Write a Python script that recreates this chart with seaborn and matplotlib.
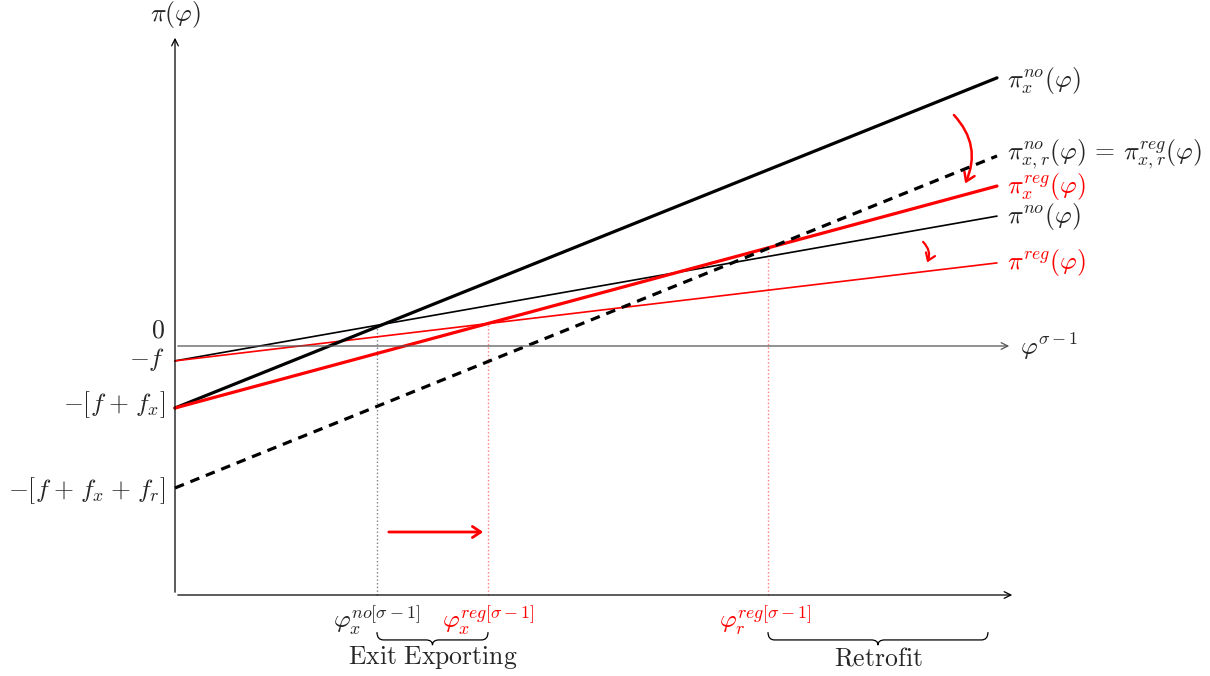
import matplotlib
matplotlib.use("Agg")
from matplotlib import pyplot as plt
from matplotlib.patches import FancyArrowPatch, PathPatch
from matplotlib.path import Path
import seaborn as sns
import numpy as np

# profit lines: value at phi=0 and at phi=10
phi_ends = [0, 10]
pi_x_no = [-2.0, 8.65]
pi_xr = [-4.58, 6.13]
pi_x_reg = [-2.0, 5.16]
pi_no = [-0.48, 4.19]
pi_reg = [-0.48, 2.68]

# cutoffs
cut_x_no = 2.457
cut_x_reg = 3.808
cut_r_reg = 7.214
retrofit_end = 9.89

sns.set_theme(style="white")
plt.rcParams["mathtext.fontset"] = "cm"
plt.rcParams["font.family"] = ["DejaVu Serif"]

RED = "#ff0000"
FS = 18.5

fig = plt.figure(figsize=(12.1, 6.76), dpi=100)
ax = fig.add_axes([0, 0, 1, 1])
ax.set_xlim(-175 / 82.2, (1210 - 175) / 82.2)
ax.set_ylim((346 - 676) / 31, 346 / 31)
ax.axis("off")


def line_at(vals, x):
    return np.interp(x, phi_ends, vals)


# axes
y_bot = (346 - 595) / 31
ax.annotate("", xy=(0, (346 - 35) / 31), xytext=(0, y_bot),
            arrowprops=dict(arrowstyle="->", lw=0.9, color="black"))
ax.annotate("", xy=((1015 - 175) / 82.2, y_bot), xytext=(0, y_bot),
            arrowprops=dict(arrowstyle="->", lw=0.9, color="black"))
ax.annotate("", xy=((1012 - 175) / 82.2, 0), xytext=(0, 0),
            arrowprops=dict(arrowstyle="->", lw=0.9, color="#555555"))

# cutoff verticals
ax.plot([cut_x_no, cut_x_no], [y_bot, line_at(pi_no, cut_x_no)],
        ls=":", color="gray", lw=1.0)
ax.plot([cut_x_reg, cut_x_reg], [y_bot, line_at(pi_reg, cut_x_reg)],
        ls=":", color=RED, alpha=0.5, lw=1.0)
ax.plot([cut_r_reg, cut_r_reg], [y_bot, line_at(pi_x_reg, cut_r_reg)],
        ls=":", color=RED, alpha=0.5, lw=1.0)

# profit lines
sns.lineplot(x=phi_ends, y=pi_no, ax=ax, color="black", lw=1.2)
sns.lineplot(x=phi_ends, y=pi_reg, ax=ax, color=RED, lw=1.2)
sns.lineplot(x=phi_ends, y=pi_x_no, ax=ax, color="black", lw=2.3)
sns.lineplot(x=phi_ends, y=pi_x_reg, ax=ax, color=RED, lw=2.3)
ax.plot(phi_ends, pi_xr, color="black", lw=2.3, ls=(0, (3, 2.2)))

# labels
ax.text(0, 10.7, r"$\pi(\varphi)$", ha="center", va="center", fontsize=FS)
ax.text(-0.12, 0.5, r"$0$", ha="right", va="center", fontsize=FS)
ax.text(-0.12, -0.45, r"$-f$", ha="right", va="center", fontsize=FS)
ax.text(-0.12, -1.9, r"$-[f\;{+}\;f_x]$", ha="right", va="center",
        fontsize=FS)
ax.text(-0.12, -4.65, r"$-[f\;{+}\;f_x\;{+}\;f_r]$", ha="right",
        va="center", fontsize=FS)

xr = (1007 - 175) / 82.2
ax.text(xr, 8.58, r"$\pi_x^{no}(\varphi)$", va="center", fontsize=FS)
ax.text(xr, 6.17,
        r"$\pi_{x,r}^{no}(\varphi)\,=\,\pi_{x,r}^{reg}(\varphi)$",
        va="center", fontsize=FS)
ax.text(xr, 5.13, r"$\pi_x^{reg}(\varphi)$", va="center", fontsize=FS,
        color=RED)
ax.text(xr, 4.19, r"$\pi^{no}(\varphi)$", va="center", fontsize=FS)
ax.text(xr, 2.68, r"$\pi^{reg}(\varphi)$", va="center", fontsize=FS,
        color=RED)
ax.text((1020 - 175) / 82.2, 0, r"$\varphi^{\sigma-1}$", va="center",
        fontsize=FS)

yl = -8.84
ax.text(cut_x_no, yl, r"$\varphi_x^{no[\sigma-1]}$", ha="center",
        va="center", fontsize=FS)
ax.text(cut_x_reg, yl, r"$\varphi_x^{reg[\sigma-1]}$", ha="center",
        va="center", fontsize=FS, color=RED)
ax.text(cut_r_reg - 0.03, yl, r"$\varphi_r^{reg[\sigma-1]}$", ha="center",
        va="center", fontsize=FS, color=RED)


def brace(x0, x1, ytop=-9.23, depth=0.42):
    w = 0.08
    xm = (x0 + x1) / 2
    ymid = ytop - depth * 0.6
    ytip = ytop - depth
    verts = [(x0, ytop), (x0, ymid), (x0 + w, ymid),
             (xm - w, ymid), (xm, ymid), (xm, ytip),
             (xm, ymid), (xm + w, ymid),
             (x1 - w, ymid), (x1, ymid), (x1, ytop)]
    codes = [Path.MOVETO, Path.CURVE3, Path.CURVE3,
             Path.LINETO, Path.CURVE3, Path.CURVE3,
             Path.CURVE3, Path.CURVE3,
             Path.LINETO, Path.CURVE3, Path.CURVE3]
    ax.add_patch(PathPatch(Path(verts, codes), fill=False, lw=0.9,
                           color="black"))


brace(cut_x_no, cut_x_reg)
brace(cut_r_reg, retrofit_end)
ax.text((cut_x_no + cut_x_reg) / 2, -10.05, r"$\mathrm{Exit\ Exporting}$",
        ha="center", va="center", fontsize=FS)
ax.text((cut_r_reg + retrofit_end) / 2, -10.05, r"$\mathrm{Retrofit}$",
        ha="center", va="center", fontsize=FS)

# red arrows
ax.add_patch(FancyArrowPatch(((386 - 175) / 82.2, (346 - 532) / 31),
                             ((486 - 175) / 82.2, (346 - 532) / 31),
                             arrowstyle="->,head_length=6,head_width=4",
                             color=RED, lw=2.0))
ax.add_patch(FancyArrowPatch(((952 - 175) / 82.2, (346 - 113) / 31),
                             ((964 - 175) / 82.2, (346 - 186) / 31),
                             connectionstyle="arc3,rad=-0.35",
                             arrowstyle="->,head_length=6,head_width=4",
                             color=RED, lw=1.8))
ax.add_patch(FancyArrowPatch(((921 - 175) / 82.2, (346 - 240) / 31),
                             ((926 - 175) / 82.2, (346 - 265) / 31),
                             connectionstyle="arc3,rad=-0.4",
                             arrowstyle="->,head_length=5,head_width=3.5",
                             color=RED, lw=1.6))

fig.savefig("out.png", dpi=100)
